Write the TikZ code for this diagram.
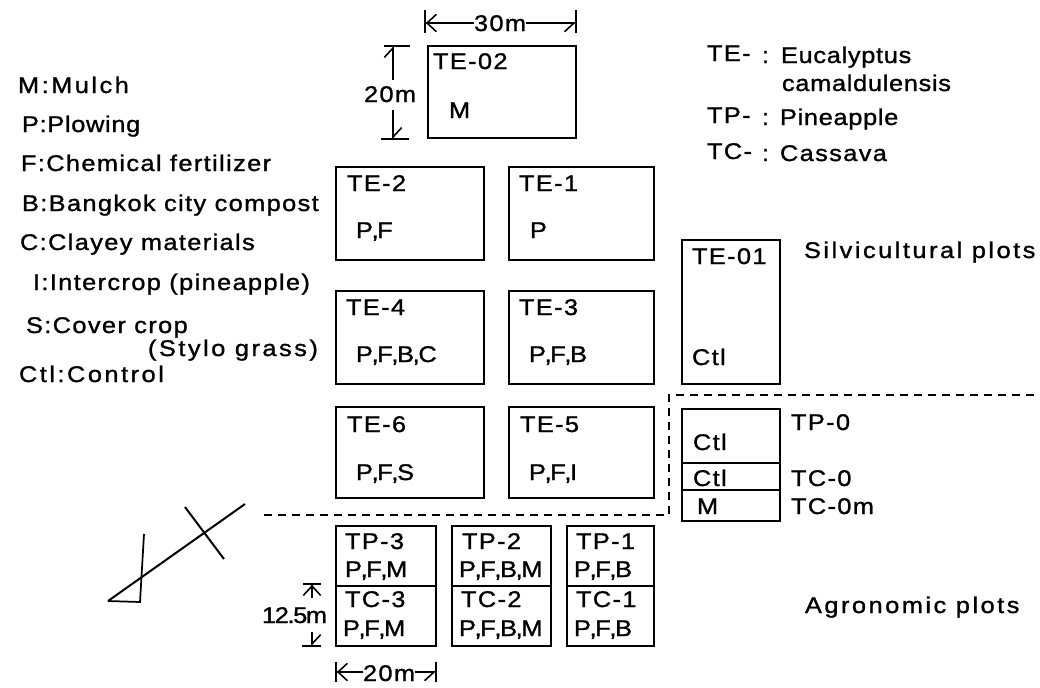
\documentclass[tikz,border=0pt]{standalone}
\usepackage{fontspec}
\setmainfont[LetterSpace=6,FakeStretch=1.12,FakeBold=1.2]{Liberation Sans}
\newfontfamily\widef[LetterSpace=11,FakeStretch=1.12,FakeBold=1.2]{Liberation Sans}
\newfontfamily\midf[LetterSpace=3,FakeStretch=1.12,FakeBold=1.2]{Liberation Sans}
\newfontfamily\tightf[Kerning=Off,LetterSpace=-6,FakeStretch=1.12,FakeBold=1.2]{Liberation Sans}
\usetikzlibrary{arrows.meta}
\tikzset{
  x=0.75pt,y=-0.75pt,
  plot/.style={draw,line width=1.7pt,anchor=north west,inner sep=0pt,outer sep=0pt},
  lab/.style={anchor=base west,inner sep=0pt,outer sep=0pt,font=\fontsize{17}{20}\selectfont},
  labwide/.style={lab,font=\widef\fontsize{17}{20}\selectfont},
  labmid/.style={lab,font=\midf\fontsize{17}{20}\selectfont},
  labtight/.style={lab,font=\tightf\fontsize{17}{20}\selectfont},
  dimline/.style={line width=1.2pt},
  barbA/.style={-{Straight Barb[length=7pt,width=13pt,line width=1.2pt,harpoon]}},
  barbB/.style={-{Straight Barb[length=7pt,width=13pt,line width=1.2pt,harpoon,swap]}},
  cutline/.style={line width=1.3pt,dash pattern=on 6pt off 4.5pt},
}
\newcommand{\plotbox}[5]{%
  \node[plot,minimum width=#4*0.75pt,minimum height=#5*0.75pt] (#1) at (#2,#3) {};}
\begin{document}
\begin{tikzpicture}
\useasboundingbox (0,0) rectangle (1040,687);
% plots
\plotbox{te02}{428}{46}{148}{92}
\plotbox{te2}{336}{167}{148}{93}
\plotbox{te1}{509}{167}{145}{93}
\plotbox{te4}{336}{291}{148}{93}
\plotbox{te3}{509}{291}{145}{93}
\plotbox{te6}{336}{407}{148}{91}
\plotbox{te5}{509}{407}{145}{91}
\plotbox{te01}{682}{240}{98}{144}
\plotbox{tp0}{682}{409}{98}{54}
\plotbox{tc0}{682}{463}{98}{27}
\plotbox{tc0m}{682}{490}{98}{31}
\plotbox{tp3}{336}{526}{100}{60}
\plotbox{tc3}{336}{586}{100}{60}
\plotbox{tp2}{452}{526}{99}{60}
\plotbox{tc2}{452}{586}{99}{60}
\plotbox{tp1}{567}{526}{87}{60}
\plotbox{tc1}{567}{586}{87}{60}
% plot labels
\node[lab] (l1) at (433,69) {TE-02};
\node[lab] (l2) at (449,118) {M};
\node[lab] (l3) at (347,191) {TE-2};
\node[labtight] (l4) at (356,238) {P,F};
\node[lab] (l5) at (519,191) {TE-1};
\node[lab] (l6) at (530,238) {P};
\node[lab] (l7) at (346,315) {TE-4};
\node[labtight] (l8) at (356,362) {P,F,B,C};
\node[lab] (l9) at (519,315) {TE-3};
\node[labtight] (l10) at (529,362) {P,F,B};
\node[lab] (l11) at (347,432) {TE-6};
\node[labtight] (l12) at (356,480) {P,F,S};
\node[lab] (l13) at (520,432) {TE-5};
\node[labtight] (l14) at (529,480) {P,F,I};
\node[lab] (l15) at (692,264) {TE-01};
\node[lab] (l16) at (692,365) {Ctl};
\node[lab] (l17) at (791,430) {TP-0};
\node[lab] (l18) at (693,450) {Ctl};
\node[lab] (l19) at (693,486) {Ctl};
\node[lab] (l20) at (697,514) {M};
\node[lab] (l21) at (791,486) {TC-0};
\node[lab] (l22) at (791,514) {TC-0m};
\node[lab] (l23) at (345,549) {TP-3};
\node[labtight] (l24) at (345,577) {P,F,M};
\node[lab] (l25) at (345,607) {TC-3};
\node[labtight] (l26) at (343,636) {P,F,M};
\node[lab] (l27) at (462,549) {TP-2};
\node[labtight] (l28) at (459,577) {P,F,B,M};
\node[lab] (l29) at (461,607) {TC-2};
\node[labtight] (l30) at (459,636) {P,F,B,M};
\node[lab] (l31) at (576,549) {TP-1};
\node[labtight] (l32) at (574,577) {P,F,B};
\node[lab] (l33) at (576,607) {TC-1};
\node[labtight] (l34) at (574,636) {P,F,B};
% legend
\node[labwide] (m1) at (18,93) {M:Mulch};
\node[labmid] (m2) at (22,132) {P:Plowing};
\node[lab] (m3) at (21,171) {F:Chemical fertilizer};
\node[lab] (m4) at (22,211) {B:Bangkok city compost};
\node[lab] (m5) at (20,250) {C:Clayey materials};
\node[lab] (m6) at (33,290) {I:Intercrop (pineapple)};
\node[lab] (m7) at (26,333) {S:Cover crop};
\node[labwide] (m8) at (148,356) {(Stylo grass)};
\node[labwide] (m9) at (19,382) {Ctl:Control};
\node[lab] (k1) at (707,61) {TE-};
\node[lab] (k1c) at (762,63) {:};
\node[labmid] (k1t) at (781,63) {Eucalyptus};
\node[labmid] (k2) at (782,91) {camaldulensis};
\node[lab] (k3) at (707,123) {TP-};
\node[lab] (k3c) at (762,125) {:};
\node[labmid] (k3t) at (780,125) {Pineapple};
\node[lab] (k4) at (707,159) {TC-};
\node[lab] (k4c) at (762,161) {:};
\node[lab] (k4t) at (780,161) {Cassava};
\node[labwide] (s1) at (804,258) {Silvicultural plots};
\node[labwide] (s2) at (805,613) {Agronomic plots};
% dimensions
\node[lab] (d30) at (474,31) {30m};
\node[lab] (d20) at (364,102) {20m};
\node[labtight] (d125) at (262,623) {12.5m};
\node[lab] (d20b) at (363,681) {20m};
\coordinate (a1) at (425,23); \coordinate (a2) at (576,23);
\draw[dimline] (425,10) -- (425,33);
\draw[dimline] (576,10) -- (576,33);
\draw[dimline,barbB] (d30.west |- a1) -- (a1);
\draw[dimline,barbA] (d30.west |- a1) -- (a1);
\draw[dimline,barbB] (d30.east |- a2) -- (a2);
\coordinate (b1) at (393,46); \coordinate (b2) at (393,139);
\draw[dimline] (384,46) -- (410,46);
\draw[dimline] (381,139) -- (409,139);
\draw[dimline,barbA] (393,80) -- (b1);
\draw[dimline,barbA] (393,110) -- (b2);
\coordinate (c1) at (312,584); \coordinate (c2) at (312,646);
\draw[dimline] (303,584) -- (321,584);
\draw[dimline] (302,646) -- (321,646);
\draw[dimline,barbB] (312,598) -- (c1);
\draw[dimline,barbA] (312,598) -- (c1);
\draw[dimline,barbA] (312,632) -- (c2);
\coordinate (e1) at (336,672); \coordinate (e2) at (436,672);
\draw[dimline] (336,662) -- (336,682);
\draw[dimline] (436,662) -- (436,682);
\draw[dimline,barbA] (d20b.west |- e1) -- (e1);
\draw[dimline,barbB] (d20b.west |- e1) -- (e1);
\draw[dimline,barbB] (d20b.east |- e2) -- (e2);
% cut line
\coordinate (q1) at (264,515); \coordinate (q2) at (669,515);
\coordinate (q3) at (669,395); \coordinate (q4) at (1035,395);
\draw[cutline] (q1) -- (q2) -- (q3) -- (q4);
% north sign
\coordinate (n1) at (108,601); \coordinate (n2) at (245,504);
\coordinate (n3) at (185,507); \coordinate (n4) at (224,559);
\coordinate (n5) at (144,534); \coordinate (n6) at (140,602);
\draw[line width=1.5pt] (n1) -- (n2);
\draw[line width=1.5pt] (n3) -- (n4);
\draw[line width=1.3pt] (n5) -- (n6) -- (n1);
\end{tikzpicture}
\end{document}
